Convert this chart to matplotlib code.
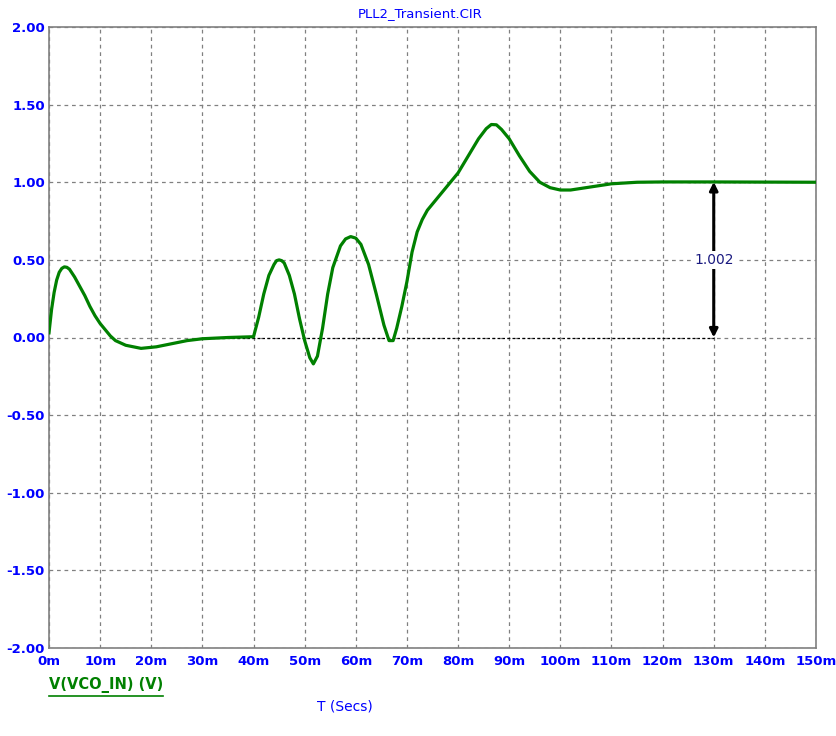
import numpy as np
import matplotlib
matplotlib.use('Agg')
import matplotlib.pyplot as plt

# waveform (time in ms, volts)
t_ms = [0, 0.5, 1, 1.5, 2, 2.5, 3, 3.5, 4, 5, 6, 7, 8, 9, 10, 11, 12, 13, 15, 18, 21, 24, 27, 30, 35,
        40, 41, 42, 43, 44, 44.5, 45, 45.5, 46, 47, 48, 49, 50, 51, 51.7, 52.5, 53.5, 54.5, 55.5,
        57, 58, 59, 60, 61, 62.5, 64, 65.5, 66.5, 67.3, 68, 69, 70, 71, 72, 73, 74, 76, 78,
        80, 82, 84, 85.5, 86.5, 87.5, 88.5, 90, 92, 94, 96, 98, 100, 102, 105, 110, 115, 120, 130, 150]
v_vco = [0.03, 0.18, 0.29, 0.37, 0.42, 0.445, 0.455, 0.452, 0.44, 0.39, 0.33, 0.27, 0.20, 0.14,
         0.09, 0.05, 0.01, -0.02, -0.05, -0.07, -0.06, -0.04, -0.02, -0.008, 0.0,
         0.005, 0.13, 0.28, 0.40, 0.47, 0.495, 0.50, 0.495, 0.48, 0.40, 0.28, 0.12, -0.02, -0.13,
         -0.17, -0.12, 0.06, 0.28, 0.45, 0.59, 0.635, 0.65, 0.64, 0.60, 0.47, 0.28, 0.08, -0.02,
         -0.02, 0.06, 0.20, 0.36, 0.55, 0.68, 0.76, 0.82, 0.90, 0.98, 1.06, 1.17, 1.28, 1.345,
         1.372, 1.37, 1.34, 1.28, 1.17, 1.07, 1.00, 0.965, 0.95, 0.95, 0.965, 0.99, 1.0, 1.002,
         1.002, 1.0]

x_ticks = list(range(0, 151, 10))
x_labels = [f"{v}m" for v in x_ticks]
y_ticks = [2.0, 1.5, 1.0, 0.5, 0.0, -0.5, -1.0, -1.5, -2.0]
y_labels = ["2.00", "1.50", "1.00", "0.50", "0.00", "-0.50", "-1.00", "-1.50", "-2.00"]

meas_t = 130
meas_v = 1.002

blue = '#0000ff'
green = '#008000'

fig = plt.figure(figsize=(8.37, 7.36), dpi=100)
ax = fig.add_axes([49/837, 88/736, 767/837, 621/736])

ax.set_xlim(0, 150)
ax.set_ylim(-2, 2)
ax.set_xticks(x_ticks)
ax.set_xticklabels(x_labels)
ax.set_yticks(y_ticks)
ax.set_yticklabels(y_labels)
ax.tick_params(length=0, colors=blue, labelsize=9.5)
ax.tick_params(axis='x', pad=5)
ax.tick_params(axis='y', pad=3)
for lab in ax.get_xticklabels() + ax.get_yticklabels():
    lab.set_fontweight('bold')
ax.grid(True, color='#808080', linestyle=(0, (3, 3)), linewidth=0.9)
for s in ax.spines.values():
    s.set_color('#808080')
    s.set_linewidth(1.2)

# measurement guide lines
ax.plot([30, meas_t], [0, 0], color='black', linestyle=(0, (2, 2)), linewidth=0.9, zorder=2)
ax.plot([meas_t - 5, meas_t + 10], [meas_v, meas_v], color='black', linestyle=(0, (2, 2)),
        linewidth=0.9, zorder=2)

ax.plot(t_ms, v_vco, color=green, linewidth=2.3, zorder=3)

# measurement arrow
ax.annotate('', xy=(meas_t, meas_v), xytext=(meas_t, 0),
            arrowprops=dict(arrowstyle='<|-|>', color='black', lw=2.2,
                            mutation_scale=12, shrinkA=0, shrinkB=0), zorder=4)
ax.text(meas_t, meas_v / 2, f"{meas_v:.3f}", color='#1a1a80', fontsize=10,
        ha='center', va='center', zorder=5,
        bbox=dict(facecolor='white', edgecolor='none', pad=1.5))

fig.text(420/837, 1 - 14/736, "PLL2_Transient.CIR", color=blue, fontsize=9.5,
         ha='center', va='center')
fig.text(49/837, 1 - 685/736, "V(VCO_IN) (V)", color=green, fontsize=10.5,
         fontweight='bold', ha='left', va='center')
fig.add_artist(plt.Line2D([49/837, 163/837], [1 - 696/736, 1 - 696/736],
                          color=green, linewidth=1.2))
fig.text(345/837, 1 - 707/736, "T (Secs)", color=blue, fontsize=10,
         ha='center', va='center')

fig.savefig('out.png', dpi=100)
